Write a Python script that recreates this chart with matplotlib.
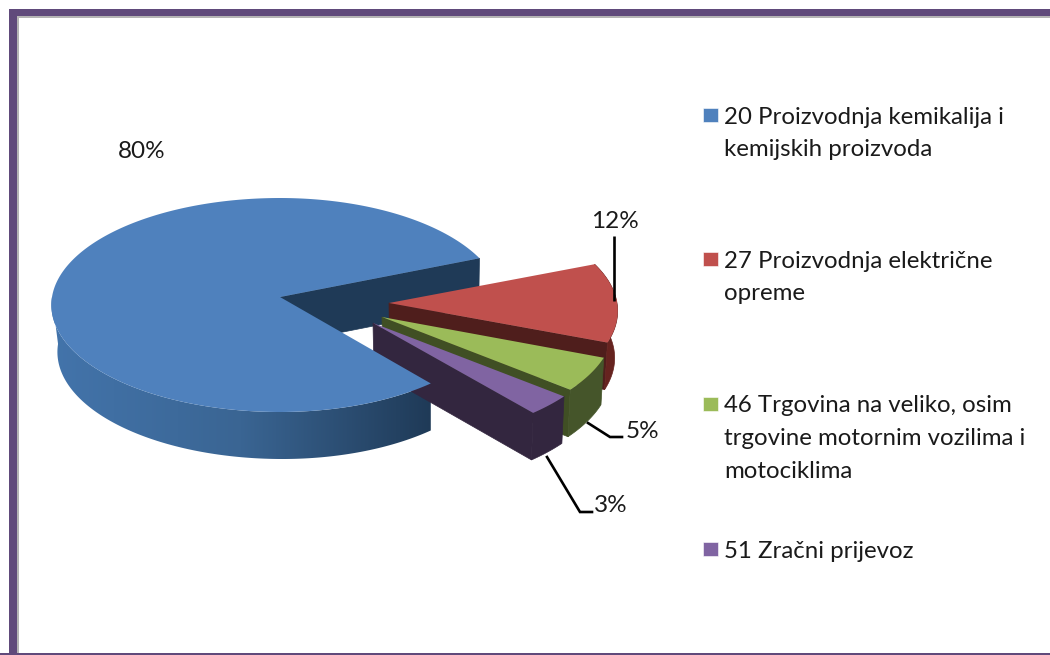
import numpy as np
import matplotlib
matplotlib.use('Agg')
import matplotlib.pyplot as plt
from matplotlib.patches import Polygon, Rectangle
from matplotlib.colors import LinearSegmentedColormap

# Data
shares = [80, 12, 5, 3]
share_labels = ['80%', '12%', '5%', '3%']
legend_labels = [
    '20 Proizvodnja kemikalija i\nkemijskih proizvoda',
    '27 Proizvodnja električne\nopreme',
    '46 Trgovina na veliko, osim\ntrgovine motornim vozilima i\nmotociklima',
    '51 Zračni prijevoz',
]

# Look of the slices
top_colors = ['#4f81bd', '#c0504d', '#9bbb59', '#8064a2']
wall_colors = ['#1f3a57', '#4f1e1c', '#404f24', '#33263f']
rim_colors = [None, '#66231f', '#45552a', '#33263f']
apexes = [(280, 297), (389, 303), (382, 317), (373, 323)]
# how far each slice reaches to the right and down, relative to the base ellipse
scale_x = [0.97, 1.0, 1.015, 1.03]
scale_y = [1.0, 1.0, 1.03, 1.04]
legend_y = [116, 260, 405, 550]
label_xy = [(142, 151), (615, 222), (642, 431), (611, 506)]

RX, RY, K = 228, 106.4, 0.0748
DEPTH = 47
START = 22.0

plt.rcParams['font.family'] = ['Lato', 'DejaVu Sans']


def top_point(i, deg):
    t = np.radians(deg)
    w = 1 + K * np.sin(t)
    sx = scale_x[i] if np.cos(t) > 0 else 1.0
    sy = scale_y[i] if np.sin(t) < 0 else 1.0
    return apexes[i][0] + sx * RX * np.cos(t) / w, apexes[i][1] - sy * RY * np.sin(t) / w


def drop(p):
    # bottom face sits lower and pulls in a little towards the vanishing point
    return p[0] - 0.016 * (p[0] - 430), p[1] + DEPTH


def arc(i, a, b, n=80):
    return [top_point(i, d) for d in np.linspace(a, b, n)]


def wall(ax, i, deg, color):
    tip = top_point(i, deg)
    ax.add_patch(Polygon([apexes[i], tip, drop(tip), drop(apexes[i])], closed=True,
                         fc=color, ec=color, lw=0.5))


def rim(ax, i, a, b, color):
    pts = arc(i, a, b)
    ax.add_patch(Polygon(pts + [drop(p) for p in pts[::-1]], closed=True,
                         fc=color, ec=color, lw=0.5))


def blue_rim(ax, i, a, b):
    # gradient along x, medium blue on the left to navy on the right
    pts = arc(i, a, b, 300)
    shape = Polygon(pts + [drop(p) for p in pts[::-1]], closed=True, fc='none', ec='none')
    ax.add_patch(shape)
    cmap = LinearSegmentedColormap.from_list('rim', ['#4374ab', '#3a6593', '#1f3a57'])
    img = ax.imshow(np.linspace(0, 1, 256).reshape(1, -1), cmap=cmap, aspect='auto',
                    extent=(50, 432, 480, 290), interpolation='bilinear')
    img.set_clip_path(shape)


fig = plt.figure(figsize=(10.5, 6.55), dpi=100)
ax = fig.add_axes([0, 0, 1, 1])

# Frame round the picture
frame = '#604a7b'
ax.add_patch(Rectangle((17, 16), 1033, 1.5, fc='#b4b4b4', ec='none'))
ax.add_patch(Rectangle((17, 16), 2.3, 639, fc='#b4b4b4', ec='none'))
ax.add_patch(Rectangle((9, 9), 1041, 7, fc=frame, ec='none'))
ax.add_patch(Rectangle((9, 9), 8.3, 646, fc=frame, ec='none'))
ax.add_patch(Rectangle((0, 652.7), 1050, 2.3, fc=frame, ec='none'))

# Slice angles, clockwise from START for the small ones
sweeps = [s / sum(shares) * 360 for s in shares]
blue_start, blue_end = START, START + sweeps[0]

# Blue cut face goes behind everything
wall(ax, 0, blue_start, wall_colors[0])

a = START
for i in range(1, len(shares)):
    b = a - sweeps[i]
    wall(ax, i, b, wall_colors[i])
    rim(ax, i, b, a, rim_colors[i])
    ax.add_patch(Polygon([apexes[i]] + arc(i, b, a), closed=True,
                         fc=top_colors[i], ec='none'))
    a = b

# Blue slice last, it hides part of the purple wall
blue_rim(ax, 0, 180, blue_end)
ax.add_patch(Polygon([apexes[0]] + arc(0, blue_start, blue_end, 300), closed=True,
                     fc=top_colors[0], ec='none'))

# Leader lines
ax.plot([614, 614], [236, 301], color='black', lw=1.9, solid_capstyle='butt')
ax.plot([588, 610, 622], [423, 437, 437], color='black', lw=1.9, solid_joinstyle='miter')
ax.plot([547, 580, 592], [457, 512, 512], color='black', lw=1.9, solid_joinstyle='miter')

# Value labels
for txt, (x, y) in zip(share_labels, label_xy):
    ax.text(x, y, txt, fontsize=17.5, color='#1a1a1a', ha='center', va='center')

# Legend
for label, y, c in zip(legend_labels, legend_y, top_colors):
    ax.add_patch(Rectangle((703, y - 8), 15, 14, fc=c, ec='white', lw=0.4))
    for j, line in enumerate(label.split('\n')):
        ax.text(724, y + 1 + j * 32.5, line, fontsize=17.3, color='#1a1a1a',
                ha='left', va='center')

ax.set_xlim(0, 1050)
ax.set_ylim(655, 0)
ax.axis('off')

fig.savefig('out.png', dpi=100)
